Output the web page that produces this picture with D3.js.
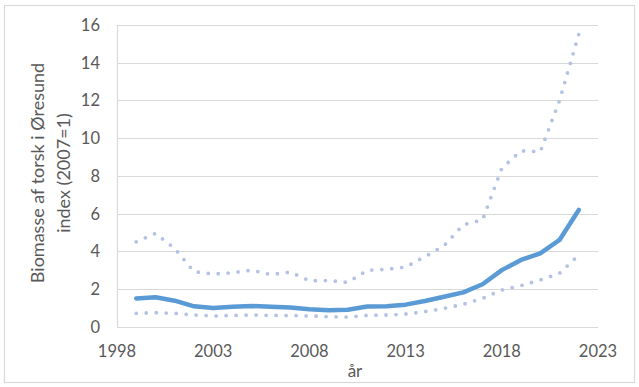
<!DOCTYPE html>
<html>
<head>
<meta charset="utf-8">
<script src="https://cdn.jsdelivr.net/npm/d3@7"></script>
<style>
  html, body { margin: 0; padding: 0; background: #fff; }
  svg { display: block; }
  text { font-family: Lato, "Open Sans", sans-serif; fill: #595959; }
</style>
</head>
<body>
<svg id="chart" width="639" height="387"></svg>
<script>
// ── Data ─────────────────────────────────────────────
const YEARS = d3.range(1999, 2023);
const INDEX = [1.50, 1.56, 1.38, 1.08, 0.99, 1.06, 1.10, 1.06, 1.02, 0.93, 0.87, 0.90,
               1.07, 1.08, 1.17, 1.36, 1.59, 1.82, 2.25, 3.00, 3.54, 3.89, 4.60, 6.19];
const UPPER = [4.50, 4.95, 4.15, 2.92, 2.79, 2.86, 3.00, 2.76, 2.90, 2.44, 2.45, 2.35,
               2.99, 3.04, 3.16, 3.71, 4.30, 5.41, 5.66, 8.40, 9.33, 9.28, 12.0, 15.5];
const LOWER = [0.71, 0.74, 0.71, 0.62, 0.57, 0.59, 0.62, 0.60, 0.59, 0.57, 0.53, 0.51,
               0.60, 0.62, 0.67, 0.80, 0.97, 1.19, 1.50, 1.95, 2.18, 2.48, 2.83, 3.80];
const X_TICKS = [1998, 2003, 2008, 2013, 2018, 2023];
const Y_TICKS = d3.range(0, 17, 2);

// ── Layout ───────────────────────────────────────────
const svg = d3.select("#chart");
const mLeft = 117, mRight = 598, mTop = 25, mBottom = 326.7;

const x = d3.scaleLinear().domain([1998, 2023]).range([mLeft, mRight]);
const y = d3.scaleLinear().domain([0, 16]).range([mBottom, mTop]);

// outer frame
svg.append("rect")
  .attr("x", 4.5).attr("y", 5.5).attr("width", 630).attr("height", 377)
  .attr("fill", "#fff").attr("stroke", "#d9d9d9").attr("stroke-width", 1.2);

// gridlines
svg.append("g")
  .selectAll("line")
  .data(Y_TICKS)
  .join("line")
  .attr("x1", mLeft).attr("x2", mRight)
  .attr("y1", d => Math.round(y(d)) + 0.5).attr("y2", d => Math.round(y(d)) + 0.5)
  .attr("stroke", "#d9d9d9").attr("stroke-width", 1.2);

// left axis line
svg.append("line")
  .attr("x1", mLeft + 0.5).attr("x2", mLeft + 0.5)
  .attr("y1", Math.round(y(16)) + 0.5).attr("y2", Math.round(y(0)) + 0.5)
  .attr("stroke", "#d9d9d9").attr("stroke-width", 1.2);

// y tick labels
svg.append("g")
  .selectAll("text")
  .data(Y_TICKS)
  .join("text")
  .attr("x", 100).attr("y", d => y(d) + 6)
  .attr("text-anchor", "end")
  .attr("font-size", 16.5)
  .text(d => d);

// x tick labels
svg.append("g")
  .selectAll("text")
  .data(X_TICKS)
  .join("text")
  .attr("x", d => x(d)).attr("y", 357)
  .attr("text-anchor", "middle")
  .attr("font-size", 16.5)
  .text(d => d);

// axis titles
svg.append("text")
  .attr("x", 355).attr("y", 377)
  .attr("text-anchor", "middle")
  .attr("font-size", 17)
  .text("år");

const yTitle = svg.append("text")
  .attr("transform", "translate(0,173) rotate(-90)")
  .attr("text-anchor", "middle")
  .attr("font-size", 18);
yTitle.append("tspan").attr("x", 0).attr("y", 44).text("Biomasse af torsk i Øresund");
yTitle.append("tspan").attr("x", 0).attr("y", 70).text("index (2007=1)");

// ── Lines ────────────────────────────────────────────
const line = d3.line()
  .x((d, i) => x(YEARS[i]))
  .y(d => y(d));

[UPPER, LOWER].forEach(series => {
  svg.append("path")
    .datum(series)
    .attr("d", line)
    .attr("fill", "none")
    .attr("stroke", "#b4c2e3")
    .attr("stroke-width", 3.8)
    .attr("stroke-linecap", "round")
    .attr("stroke-dasharray", "0 10");
});

svg.append("path")
  .datum(INDEX)
  .attr("d", line)
  .attr("fill", "none")
  .attr("stroke", "#5b9bd5")
  .attr("stroke-width", 4.5)
  .attr("stroke-linejoin", "round")
  .attr("stroke-linecap", "round");
</script>
</body>
</html>
